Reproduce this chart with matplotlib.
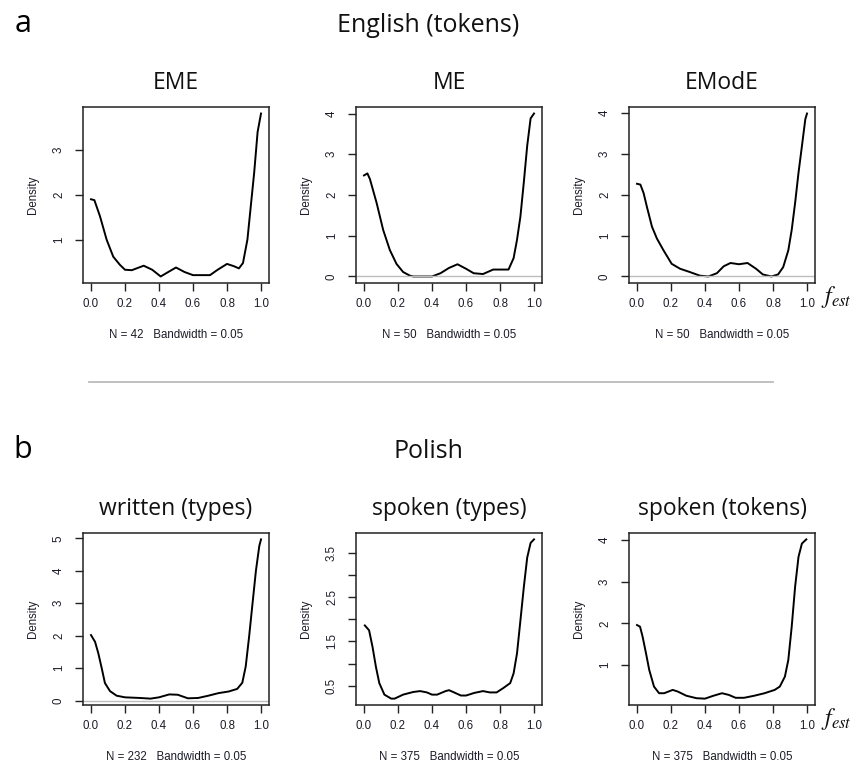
import matplotlib
matplotlib.use("Agg")
import matplotlib.pyplot as plt
from matplotlib.lines import Line2D

plt.rcParams["mathtext.fontset"] = "stix"

# ---- datos (densidades estimadas) ----
eme_x = [0.0, 0.02, 0.053, 0.092, 0.131, 0.17, 0.2, 0.24, 0.31, 0.36, 0.41, 0.45, 0.50,
         0.55, 0.6, 0.70, 0.745, 0.80, 0.84, 0.87, 0.894, 0.92, 0.94, 0.96, 0.98, 1.0]
eme_y = [1.90, 1.88, 1.52, 1.00, 0.62, 0.44, 0.33, 0.32, 0.42, 0.33, 0.18, 0.27, 0.38,
         0.28, 0.21, 0.21, 0.33, 0.46, 0.41, 0.36, 0.48, 1.00, 1.75, 2.50, 3.40, 3.81]

me_x = [0.0, 0.02, 0.035, 0.074, 0.113, 0.152, 0.191, 0.23, 0.27, 0.29, 0.40, 0.45, 0.50,
        0.55, 0.60, 0.645, 0.70, 0.76, 0.85, 0.88, 0.90, 0.92, 0.94, 0.96, 0.98, 1.0]
me_y = [2.48, 2.53, 2.39, 1.81, 1.14, 0.65, 0.31, 0.11, 0.02, 0.0, 0.0, 0.08, 0.21,
        0.30, 0.19, 0.08, 0.06, 0.17, 0.17, 0.45, 0.90, 1.47, 2.31, 3.21, 3.88, 4.00]

emode_x = [0.0, 0.02, 0.039, 0.058, 0.088, 0.117, 0.156, 0.204, 0.253, 0.31, 0.37, 0.42,
           0.47, 0.51, 0.55, 0.60, 0.65, 0.70, 0.74, 0.79, 0.83, 0.86, 0.89, 0.91, 0.93,
           0.95, 0.97, 0.99, 1.0]
emode_y = [2.27, 2.25, 2.04, 1.71, 1.22, 0.93, 0.64, 0.31, 0.19, 0.11, 0.02, 0.0,
           0.08, 0.25, 0.33, 0.30, 0.33, 0.19, 0.05, 0.0, 0.05, 0.23, 0.64, 1.14, 1.80,
           2.54, 3.19, 3.85, 3.99]

written_x = [0.0, 0.024, 0.043, 0.063, 0.082, 0.112, 0.151, 0.2, 0.29, 0.35, 0.40, 0.46,
             0.51, 0.57, 0.63, 0.69, 0.75, 0.81, 0.86, 0.89, 0.91, 0.93, 0.95, 0.97, 0.99, 1.0]
written_y = [2.02, 1.81, 1.46, 1.00, 0.54, 0.29, 0.15, 0.10, 0.08, 0.06, 0.10, 0.19,
             0.18, 0.07, 0.08, 0.15, 0.23, 0.28, 0.36, 0.55, 1.05, 1.97, 2.99, 4.00, 4.77, 4.97]

sptypes_x = [0.005, 0.03, 0.05, 0.07, 0.09, 0.12, 0.16, 0.18, 0.23, 0.29, 0.33, 0.37, 0.40,
             0.43, 0.48, 0.50, 0.53, 0.57, 0.60, 0.65, 0.70, 0.74, 0.78, 0.82, 0.86, 0.88,
             0.90, 0.92, 0.94, 0.96, 0.98, 1.0]
sptypes_y = [1.86, 1.75, 1.38, 0.93, 0.56, 0.30, 0.21, 0.21, 0.30, 0.36, 0.38, 0.35, 0.30,
             0.30, 0.38, 0.40, 0.35, 0.28, 0.28, 0.34, 0.38, 0.35, 0.35, 0.45, 0.56, 0.78,
             1.23, 1.97, 2.72, 3.39, 3.72, 3.80]

sptokens_x = [0.0, 0.018, 0.033, 0.053, 0.072, 0.10, 0.13, 0.16, 0.21, 0.24, 0.29, 0.35,
              0.40, 0.45, 0.50, 0.54, 0.58, 0.63, 0.69, 0.75, 0.81, 0.84, 0.87, 0.89, 0.91,
              0.93, 0.95, 0.97, 0.996]
sptokens_y = [1.96, 1.92, 1.68, 1.28, 0.88, 0.48, 0.32, 0.32, 0.40, 0.36, 0.26, 0.20,
              0.19, 0.26, 0.32, 0.28, 0.21, 0.21, 0.26, 0.32, 0.40, 0.48, 0.72, 1.12, 1.92,
              2.88, 3.60, 3.92, 4.02]

titles = ["EME", "ME", "EModE", "written (types)", "spoken (types)", "spoken (tokens)"]
n_labels = ["N = 42   Bandwidth = 0.05", "N = 50   Bandwidth = 0.05", "N = 50   Bandwidth = 0.05",
            "N = 232   Bandwidth = 0.05", "N = 375   Bandwidth = 0.05", "N = 375   Bandwidth = 0.05"]
x_ticks = [0.0, 0.2, 0.4, 0.6, 0.8, 1.0]
x_ticklabels = ["0.0", "0.2", "0.4", "0.6", "0.8", "1.0"]
y_ticks = [[1, 2, 3], [0, 1, 2, 3, 4], [0, 1, 2, 3, 4], [0, 1, 2, 3, 4, 5],
           [0.5, 1.0, 1.5, 2.0, 2.5, 3.0, 3.5], [1, 2, 3, 4]]
y_ticklabels = [["1", "2", "3"], ["0", "1", "2", "3", "4"], ["0", "1", "2", "3", "4"],
                ["0", "1", "2", "3", "4", "5"],
                ["0.5", "", "1.5", "", "2.5", "", "3.5"], ["1", "2", "3", "4"]]

curves = [(eme_x, eme_y), (me_x, me_y), (emode_x, emode_y),
          (written_x, written_y), (sptypes_x, sptypes_y), (sptokens_x, sptokens_y)]

W, H = 854, 769
SMALL = 8.3
TXT = "#1c1c28"


def fx(px):
    return px / W


def fy(py):
    return 1 - py / H


fig = plt.figure(figsize=(W / 100, H / 100), dpi=100)

# posiciones de las cajas en pixeles: (izq, der) y (arriba, abajo)
cols = [(83, 269), (356, 542), (629, 815)]
rows = [(107, 283), (533, 705)]

for k, (xs, ys) in enumerate(curves):
    r, c = divmod(k, 3)
    left, right = cols[c]
    top, bottom = rows[r]
    wpx = right - left
    hpx = bottom - top
    ax = fig.add_axes([fx(left), fy(bottom), wpx / W, hpx / H])

    # linea gris en cero (como plot.density de R) y la curva
    ax.axhline(0, color="#bdbdbd", lw=1.0, zorder=2)
    ax.plot(xs, ys, color="black", lw=1.4, zorder=1, solid_joinstyle="round")

    # rango estilo R: 4% de extension
    lo, hi = min(ys), max(ys)
    pad = 0.04 * (hi - lo)
    ax.set_ylim(lo - pad, hi + pad)
    ax.set_xlim(-0.047, 1.047)

    ax.set_xticks(x_ticks)
    ax.set_xticklabels(x_ticklabels, fontsize=SMALL, color=TXT, family="Liberation Sans")
    ax.set_yticks(y_ticks[k])
    ax.set_yticklabels(y_ticklabels[k], fontsize=SMALL, color=TXT, family="Liberation Sans",
                       rotation=90, va="center")
    ax.tick_params(axis="both", direction="out", length=6, width=1.0, color="#222222")
    ax.tick_params(axis="x", pad=5)
    ax.tick_params(axis="y", pad=7)
    for sp in ax.spines.values():
        sp.set_linewidth(1.1)
        sp.set_color("#222222")

    ax.set_ylabel("Density", fontsize=SMALL, color=TXT, family="Liberation Sans")
    ax.yaxis.set_label_coords(-(44.0 / wpx), 0.5)
    ax.set_xlabel(n_labels[k], fontsize=SMALL, color=TXT, family="Liberation Sans")
    ax.xaxis.set_label_coords(0.5, -(46.0 / hpx))

    # subtitulo de cada panel
    fig.text(fx((left + right) / 2), fy(top - 18), titles[k], fontsize=16.5,
             family="Open Sans", ha="center", va="baseline", color="#111111")

    if c == 2:
        ax.text(1.03, -(20.0 / hpx), r"$f_{est}$", transform=ax.transAxes,
                fontsize=17, ha="left", va="baseline", color="#111111")

# letras y encabezados
fig.text(fx(23), fy(32), "a", fontsize=22, family="Open Sans", ha="center", va="baseline")
fig.text(fx(428), fy(32), "English (tokens)", fontsize=18, family="Open Sans",
         ha="center", va="baseline", color="#111111")
fig.text(fx(23), fy(458), "b", fontsize=22, family="Open Sans", ha="center", va="baseline")
fig.text(fx(428), fy(458), "Polish", fontsize=18, family="Open Sans",
         ha="center", va="baseline", color="#111111")

# separador entre a y b
fig.add_artist(Line2D([fx(89), fx(773)], [fy(382), fy(382)], color="#bbbbbb", lw=1.3))

fig.savefig("out.png", dpi=100)
